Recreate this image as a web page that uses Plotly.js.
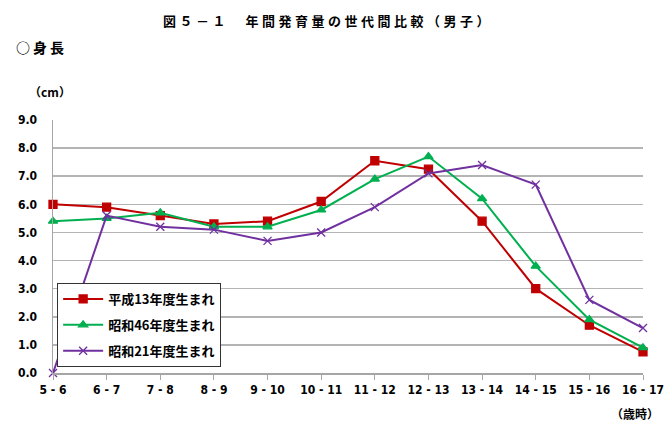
<!DOCTYPE html>
<html>
<head>
<meta charset="utf-8">
<script src="https://cdn.plot.ly/plotly-3.0.1.min.js"></script>
<style>
  html, body { margin: 0; padding: 0; background: #fff; }
  #chart { width: 669px; height: 431px; }
</style>
</head>
<body>
<div id="chart"></div>
<script>
// Age intervals (years)
const ageRanges = ["5 - 6", "6 - 7", "7 - 8", "8 - 9", "9 - 10", "10 - 11",
                   "11 - 12", "12 - 13", "13 - 14", "14 - 15", "15 - 16", "16 - 17"];

// Annual height gain (cm) by birth cohort
const heisei13 = [6.0, 5.9, 5.6, 5.3, 5.4, 6.1, 7.55, 7.25, 5.4, 3.0, 1.7, 0.75];
const showa46  = [5.4, 5.5, 5.7, 5.2, 5.2, 5.8, 6.9, 7.7, 6.2, 3.8, 1.9, 0.9];
const showa21  = [0.0, 5.6, 5.2, 5.1, 4.7, 5.0, 5.9, 7.1, 7.4, 6.7, 2.6, 1.6];

const seriesNames = ["平成13年度生まれ", "昭和46年度生まれ", "昭和21年度生まれ"];
const yTicks = [0, 1, 2, 3, 4, 5, 6, 7, 8, 9];

const jpFont = "'Noto Sans CJK JP', sans-serif";
const narrowFont = "'Liberation Sans Narrow', 'DejaVu Sans Condensed', 'Noto Sans CJK JP', sans-serif";

function series(y, name, color, symbol, size, group) {
  return {
    type: "scatter",
    mode: "lines+markers",
    x: ageRanges,
    y: y,
    name: name,
    legendgroup: group,
    line: { color: color, width: 2 },
    marker: { color: color, symbol: symbol, size: size,
              line: { color: color, width: 1.3 } },
    cliponaxis: false
  };
}

const traces = [
  series(heisei13, seriesNames[0], "#C00000", "square", 8, "a"),
  series(showa46, seriesNames[1], "#00B050", "triangle-up", 8, "b"),
  series(showa21, seriesNames[2], "#7030A0", "x-thin-open", 8, "c")
];

// widely spaced heading text
function spaced(text, px) {
  return '<span style="letter-spacing:' + px + 'px">' + text + '</span>';
}

const layout = {
  width: 669,
  height: 431,
  margin: { l: 53, r: 26, t: 120, b: 58 },
  paper_bgcolor: "#ffffff",
  plot_bgcolor: "#ffffff",
  showlegend: true,
  legend: {
    x: 0.007, y: 0.356, xanchor: "left", yanchor: "top",
    bgcolor: "#ffffff", bordercolor: "#333333", borderwidth: 1,
    font: { family: jpFont, size: 13, color: "#000000", weight: "bold" },
    traceorder: "grouped", tracegroupgap: 6,
    itemwidth: 40
  },
  xaxis: {
    type: "category",
    range: [0, 11],
    showgrid: false,
    showline: true, linecolor: "#a6a6a6", linewidth: 1.5,
    ticks: "outside", ticklen: 5, tickcolor: "#a6a6a6",
    tickfont: { family: narrowFont, size: 12, color: "#000000", weight: "bold" },
    zeroline: false,
    fixedrange: true
  },
  yaxis: {
    range: [0, 9],
    tickvals: yTicks,
    tickformat: ".1f",
    showgrid: true, gridcolor: "#b4b4b4", gridwidth: 1.5,
    showline: true, linecolor: "#a6a6a6", linewidth: 1.5,
    ticks: "", ticklabelstandoff: 12,
    tickfont: { family: narrowFont, size: 12, color: "#000000", weight: "bold" },
    zeroline: false,
    fixedrange: true
  },
  annotations: [
    { text: spaced("図５－１　年間発育量の世代間比較（男子）", 3.5), xref: "paper", yref: "paper",
      x: 0.5, xshift: -20, y: 1.0, yshift: 100, xanchor: "center", yanchor: "middle", showarrow: false,
      font: { family: jpFont, size: 13, color: "#000000", weight: "bold" } },
    { text: spaced("○身長", 3), xref: "paper", yref: "paper",
      x: 0, xshift: -39, y: 1.0, yshift: 73, xanchor: "left", yanchor: "middle", showarrow: false,
      font: { family: jpFont, size: 14, color: "#000000", weight: "bold" } },
    { text: "（cm）", xref: "paper", yref: "paper",
      x: 0, xshift: -26, y: 1.0, yshift: 29, xanchor: "left", yanchor: "middle", showarrow: false,
      font: { family: jpFont, size: 12, color: "#000000", weight: "bold" } },
    { text: "（歳時）", xref: "paper", yref: "paper",
      x: 1, xshift: 18, y: 0, yshift: -40, xanchor: "right", yanchor: "middle", showarrow: false,
      font: { family: jpFont, size: 12, color: "#000000", weight: "bold" } }
  ]
};

Plotly.newPlot("chart", traces, layout, { displayModeBar: false, staticPlot: true });
</script>
</body>
</html>
